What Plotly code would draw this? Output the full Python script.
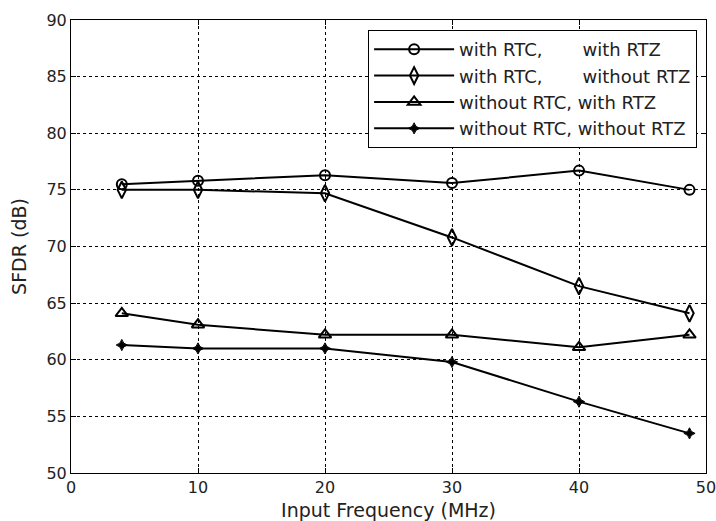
import plotly.graph_objects as go

freq = [4, 10, 20, 30, 40, 48.7]
rtc_rtz = [75.5, 75.8, 76.3, 75.6, 76.7, 75.0]
rtc_nortz = [75.0, 75.0, 74.7, 70.8, 66.5, 64.1]
nortc_rtz = [64.1, 63.1, 62.2, 62.2, 61.1, 62.2]
nortc_nortz = [61.3, 61.0, 61.0, 59.8, 56.3, 53.5]
names = ["with RTC,\u00a0\u00a0\u00a0\u00a0\u00a0\u00a0 with RTZ",
         "with RTC,\u00a0\u00a0\u00a0\u00a0\u00a0\u00a0 without RTZ",
         "without RTC, with RTZ",
         "without RTC, without RTZ"]
x_ticks = [0, 10, 20, 30, 40, 50]
y_ticks = [50, 55, 60, 65, 70, 75, 80, 85, 90]

series = [rtc_rtz, rtc_nortz, nortc_rtz, nortc_nortz]
markers = [
    dict(symbol="circle-open", size=10, color="black", line=dict(width=2)),
    dict(symbol="diamond-tall-open", size=12, color="black", line=dict(width=2)),
    dict(symbol="triangle-up-open", size=11, color="black", line=dict(width=2)),
    dict(symbol="star-diamond", size=8, color="black", line=dict(width=1, color="black")),
]

FONT = "DejaVu Sans, Liberation Sans, Arial"

fig = go.Figure()
for ys, nm, mk in zip(series, names, markers):
    fig.add_trace(go.Scatter(x=freq, y=ys, name=nm, mode="lines+markers",
                             line=dict(color="black", width=2), marker=mk))

axis_common = dict(showline=True, linecolor="black", linewidth=1, mirror="allticks",
                   ticks="inside", ticklen=5, tickcolor="black",
                   showgrid=True, gridcolor="black", griddash="3px,3px", gridwidth=1,
                   zeroline=False, automargin=False, ticklabeloverflow="allow",
                   tickfont=dict(family=FONT, size=16, color="#222"))

fig.update_layout(
    width=716, height=521,
    margin=dict(l=71, r=10, t=20, b=48),
    plot_bgcolor="white", paper_bgcolor="white",
    font=dict(family=FONT, size=16, color="#222"),
    xaxis=dict(range=[0, 50], tickvals=x_ticks,
               title=dict(text="Input Frequency (MHz)", standoff=13, font=dict(size=19)),
               **axis_common),
    yaxis=dict(range=[50, 90], tickvals=y_ticks,
               title=dict(text="SFDR (dB)", standoff=14, font=dict(size=19)),
               **axis_common),
    legend=dict(x=0.986, y=0.978, xanchor="right", yanchor="top",
                bgcolor="white", bordercolor="black", borderwidth=1,
                font=dict(family=FONT, size=18, color="#222"), tracegroupgap=0, itemwidth=80),
    showlegend=True,
)

fig.write_html("out.html")
